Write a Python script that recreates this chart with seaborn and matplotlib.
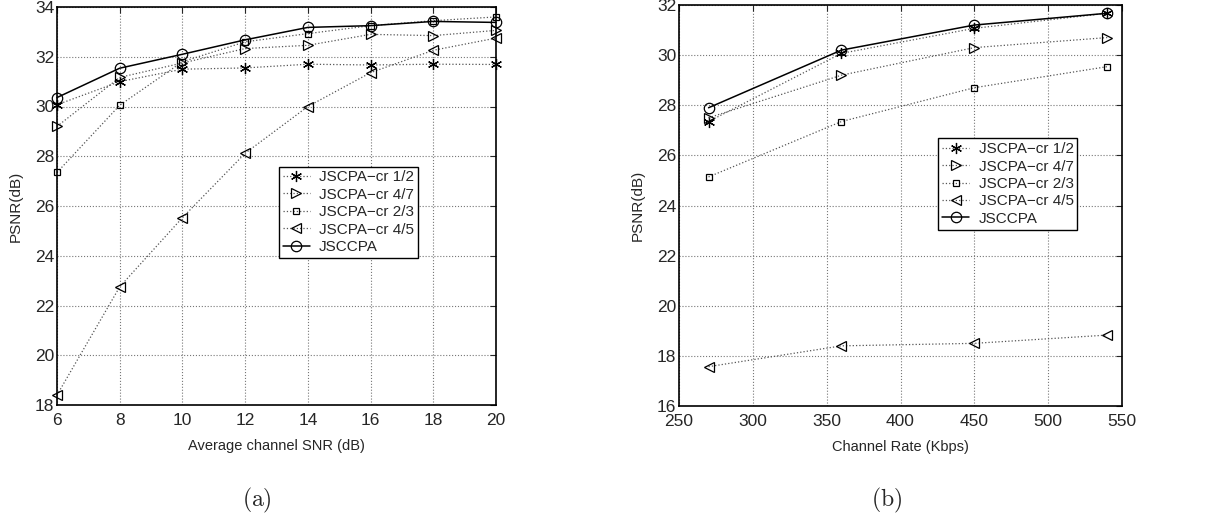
import pandas as pd
import seaborn as sns
import matplotlib.pyplot as plt

sns.set_style("white")
plt.rcParams['font.family'] = ['Liberation Sans', 'DejaVu Sans']
plt.rcParams['mathtext.fontset'] = 'cm'

series_names = ["JSCPA\u2212cr 1/2", "JSCPA\u2212cr 4/7", "JSCPA\u2212cr 2/3", "JSCPA\u2212cr 4/5", "JSCCPA"]
markers = [(6, 2, 0), ">", "s", "<", "o"]
marker_sizes = [8, 7.5, 5, 7.5, 7.5]

# (a) PSNR vs average channel SNR
snr = [6, 8, 10, 12, 14, 16, 18, 20]
snr_cr12 = [30.07, 31.0, 31.5, 31.55, 31.7, 31.67, 31.7, 31.69]
snr_cr47 = [29.2, 31.17, 31.75, 32.33, 32.46, 32.9, 32.85, 33.06]
snr_cr23 = [27.35, 30.05, 31.8, 32.6, 32.93, 33.25, 33.45, 33.6]
snr_cr45 = [18.4, 22.75, 25.53, 28.12, 30.0, 31.36, 32.26, 32.75]
snr_jsccpa = [30.36, 31.54, 32.1, 32.68, 33.18, 33.25, 33.42, 33.38]

# (b) PSNR vs channel rate
rate = [270, 360, 450, 540]
rate_cr12 = [27.35, 30.07, 31.07, 31.67]
rate_cr47 = [27.5, 29.2, 30.3, 30.7]
rate_cr23 = [25.14, 27.35, 28.7, 29.54]
rate_cr45 = [17.57, 18.4, 18.5, 18.83]
rate_jsccpa = [27.9, 30.2, 31.2, 31.67]


def long_df(x, cols):
    rows = []
    for name, vals in zip(series_names, cols):
        for xi, yi in zip(x, vals):
            rows.append({"x": xi, "psnr": yi, "scheme": name})
    return pd.DataFrame(rows)


df_a = long_df(snr, [snr_cr12, snr_cr47, snr_cr23, snr_cr45, snr_jsccpa])
df_b = long_df(rate, [rate_cr12, rate_cr47, rate_cr23, rate_cr45, rate_jsccpa])

fig = plt.figure(figsize=(12.21, 5.19), dpi=100)
ax_a = fig.add_axes([57 / 1221, 1 - 405 / 519, 439 / 1221, 398 / 519])
ax_b = fig.add_axes([679 / 1221, 1 - 406 / 519, 443 / 1221, 401 / 519])


def draw(ax, df):
    for name, mk, ms in zip(series_names, markers, marker_sizes):
        sub = df[df["scheme"] == name]
        solid = name == "JSCCPA"
        sns.lineplot(
            data=sub, x="x", y="psnr", ax=ax, label=name,
            color="black" if solid else "#555555",
            linestyle="-" if solid else ":",
            linewidth=1.1 if solid else 0.9,
            marker=mk, markersize=ms,
            markerfacecolor="none", markeredgecolor="black",
            markeredgewidth=0.9, legend=True, clip_on=False, zorder=3,
        )
    ax.grid(True, linestyle=":", color="#777777", linewidth=0.8)
    ax.tick_params(direction="in", top=True, right=True, labelsize=12.5, length=4, pad=2)
    ax.tick_params(axis="x", pad=6)
    for sp in ax.spines.values():
        sp.set_linewidth(1.2)
        sp.set_color("black")
        sp.set_zorder(4)
    ax.set_ylabel("PSNR(dB)", fontsize=11, labelpad=9)


def add_legend(ax, anchor):
    leg = ax.legend(loc="lower left", bbox_to_anchor=anchor, fontsize=11,
                    frameon=True, fancybox=False, edgecolor="black", framealpha=1,
                    borderpad=0.25, labelspacing=0.22, handlelength=1.8,
                    handletextpad=0.6, borderaxespad=0)
    leg.get_frame().set_linewidth(1.0)


draw(ax_a, df_a)
ax_a.set(xlim=(6, 20), ylim=(18, 34), xticks=snr, yticks=range(18, 35, 2))
ax_a.set_xlabel("Average channel SNR (dB)", fontsize=10.5, labelpad=8)
add_legend(ax_a, (0.505, 0.37))

draw(ax_b, df_b)
ax_b.set(xlim=(250, 550), ylim=(16, 32), xticks=range(250, 551, 50), yticks=range(16, 33, 2))
ax_b.set_xlabel("Channel Rate (Kbps)", fontsize=10.5, labelpad=8)
add_legend(ax_b, (0.585, 0.44))

fig.text(257 / 1221, 1 - 500 / 519, r"$\mathrm{(a)}$", ha="center", va="center", fontsize=17)
fig.text(887 / 1221, 1 - 500 / 519, r"$\mathrm{(b)}$", ha="center", va="center", fontsize=17)

fig.savefig("out.png", dpi=100)
